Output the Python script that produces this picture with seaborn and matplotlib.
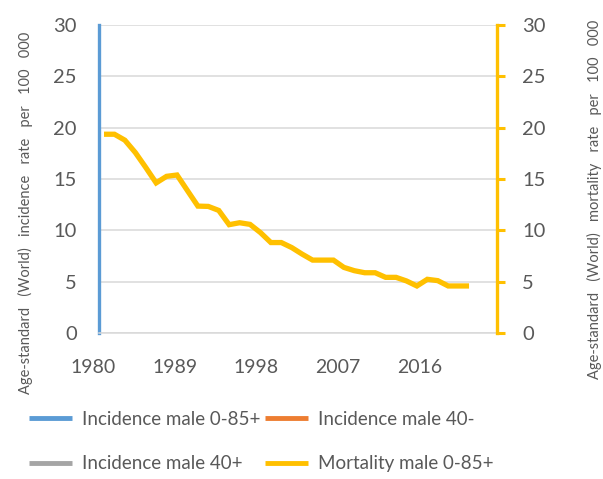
import matplotlib
matplotlib.use("Agg")
import matplotlib.pyplot as plt
import matplotlib.transforms as mtransforms
from matplotlib.lines import Line2D
import seaborn as sns
import pandas as pd

# data
years = list(range(1980, 2016))
mortality = [19.36, 19.36, 18.78, 17.58, 16.13, 14.62, 15.26, 15.39, 13.87, 12.36,
             12.33, 11.94, 10.55, 10.74, 10.58, 9.78, 8.81, 8.81, 8.32, 7.68,
             7.10, 7.10, 7.10, 6.39, 6.07, 5.87, 5.87, 5.42, 5.42, 5.07,
             4.58, 5.23, 5.10, 4.58, 4.58, 4.58]
series_names = ["Incidence male 0-85+", "Incidence male 40-",
                "Incidence male 40+", "Mortality male 0-85+"]
series_colors = ["#5B9BD5", "#ED7D31", "#A5A5A5", "#FFC000"]
tick_years = [1980, 1989, 1998, 2007, 2016]
yticks = [0, 5, 10, 15, 20, 25, 30]

sns.set_theme(style="white")
plt.rcParams["font.family"] = ["Lato", "DejaVu Sans"]
TXT = "#595959"

fig = plt.figure(figsize=(6.03, 4.79), dpi=100)
ax = fig.add_axes([99 / 603, 1 - 333 / 479, 398 / 603, 308 / 479])

df = pd.DataFrame({"year": years, "rate": mortality})

# right (mortality) axis with the only drawn series
axr = ax.twinx()
sns.lineplot(data=df, x="year", y="rate", ax=axr, color=series_colors[3],
             lw=3.8, solid_joinstyle="miter", solid_capstyle="butt")

# left (incidence) axis
ax.set_ylim(0, 30)
ax.set_yticks(yticks)
ax.set_xlim(1980 - 5 / 10.43, 1980 + 393 / 10.43)
ax.set_xticks([])
ax.grid(axis="y", color="#D9D9D9", lw=1.1)
ax.tick_params(axis="y", length=0, pad=16, labelsize=14.5, labelcolor=TXT)
for s in ["top", "right"]:
    ax.spines[s].set_visible(False)
ax.spines["bottom"].set_color("#D9D9D9")
ax.spines["bottom"].set_linewidth(1.1)
ax.spines["left"].set_color(series_colors[0])
ax.spines["left"].set_linewidth(2.4)
ax.set_ylabel("Age-standard   (World)   incidence   rate   per   100   000",
              fontsize=10.5, color=TXT)
ax.yaxis.label.set_verticalalignment("center")
ax.yaxis.set_label_coords(-0.186, 0.39)

axr.set_ylim(0, 30)
axr.set_yticks(yticks)
axr.tick_params(axis="y", length=6, width=2.2, color=series_colors[3],
                pad=12, labelsize=14.5, labelcolor=TXT, direction="out")
for s in ["top", "left", "bottom"]:
    axr.spines[s].set_visible(False)
axr.spines["right"].set_color(series_colors[3])
axr.spines["right"].set_linewidth(2.4)
axr.set_xlabel("")
axr.set_ylabel("Age-standard   (World)   mortality   rate   per   100   000",
               fontsize=10.5, color=TXT, rotation=90)
axr.yaxis.label.set_verticalalignment("center")
axr.yaxis.set_label_coords(1.246, 0.435)

# category axis labels
axt = ax.twiny()
axt.set_xticks(tick_years)
axt.set_xlim(1980, 1980 + 398 / 9.083)
axt.xaxis.set_ticks_position("bottom")
axt.xaxis.set_label_position("bottom")
axt.tick_params(axis="x", length=0, pad=19, labelsize=14, labelcolor=TXT)
for s in axt.spines.values():
    s.set_visible(False)
shift = mtransforms.ScaledTranslation(-6 / 100, 0, fig.dpi_scale_trans)
for lab in axt.get_xticklabels():
    lab.set_transform(lab.get_transform() + shift)

# legend filled row by row like the reference
order = [0, 2, 1, 3]
handles = [Line2D([], [], color=series_colors[i], lw=3.5, solid_capstyle="butt")
           for i in order]
labels = [series_names[i] for i in order]
fig.legend(handles, labels, ncol=2, loc="upper left",
           bbox_to_anchor=(29 / 603, 1 - 411 / 479), frameon=False,
           fontsize=13.5, labelcolor=TXT, handlelength=2.3, handletextpad=0.55,
           columnspacing=0.2, labelspacing=1.45, borderpad=0, borderaxespad=0)

fig.savefig("out.png", dpi=100)
